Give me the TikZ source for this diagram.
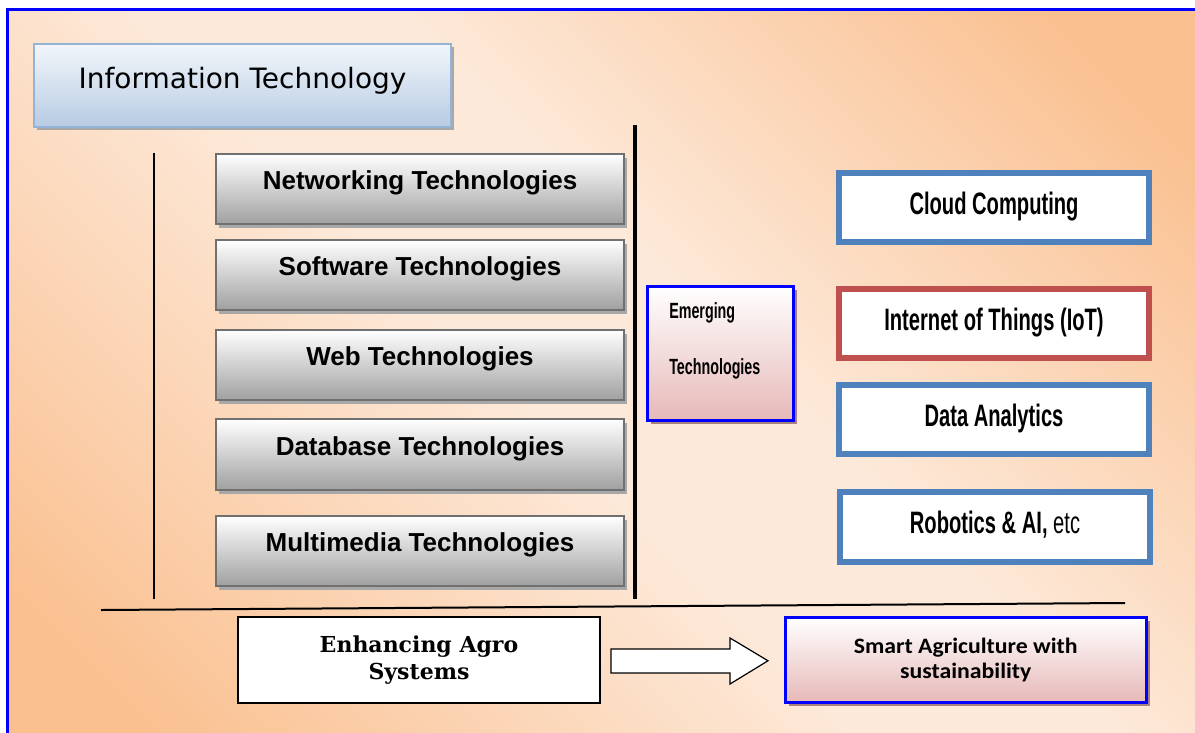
\documentclass[tikz,border=0pt]{standalone}
\usepackage{fontspec}
\usetikzlibrary{shadows,calc}
\newfontfamily\verd{DejaVu Sans}
\newfontfamily\arial{Liberation Sans}
\newfontfamily\agency[FakeStretch=0.65]{Liberation Sans}
\newfontfamily\serifb{DejaVu Serif}
\newfontfamily\calib[FakeStretch=1.08]{Carlito}
\definecolor{bgo}{HTML}{FAC090}
\definecolor{bgl}{HTML}{FDE9D9}
\definecolor{titletop}{HTML}{F2F6FB}
\definecolor{titlebot}{HTML}{B7CBE3}
\definecolor{titleborder}{HTML}{95B3D7}
\definecolor{graybot}{HTML}{A0A0A0}
\definecolor{grayborder}{HTML}{707070}
\definecolor{shadowgray}{HTML}{A8A8A8}
\definecolor{pinkbot}{HTML}{E6B9B8}
\definecolor{shadowbrown}{HTML}{A6817F}
\definecolor{accblue}{HTML}{4F81BD}
\definecolor{accred}{HTML}{C0504D}
\definecolor{pureblue}{HTML}{0000FF}
\pgfdeclareverticalshading{bgshade}{100bp}{color(0bp)=(bgo); color(20bp)=(bgo); color(46bp)=(bgl); color(56bp)=(bgl); color(80bp)=(bgo); color(100bp)=(bgo)}
\tikzset{
  graybox/.style={draw=grayborder, line width=2pt, top color=white, bottom color=graybot,
    minimum width=408pt, minimum height=70pt, anchor=north west, inner sep=0pt,
    font=\arial\bfseries\fontsize{26pt}{30pt}\selectfont, text height=20pt, text depth=19pt,
    drop shadow={shadow xshift=3pt, shadow yshift=-4pt, fill=shadowgray, opacity=1}},
  techbox/.style={draw=#1, line width=6pt, fill=white, minimum width=310pt, minimum height=69pt,
    anchor=north west, inner sep=0pt, text height=22pt, text depth=9pt,
    font=\agency\bfseries\fontsize{31pt}{36pt}\selectfont},
  pinkbox/.style={draw=pureblue, line width=2.5pt, top color=white, bottom color=pinkbot,
    anchor=north west, inner sep=0pt,
    drop shadow={shadow xshift=4pt, shadow yshift=-4pt, fill=shadowbrown, opacity=1}},
}
\begin{document}
\begin{tikzpicture}[x=1pt, y=-1pt]
\useasboundingbox (0,0) rectangle (1195,732);
\fill[white] (0,0) rectangle (1195,732);
\shade[shading=bgshade, shading angle=-45] (7.5,9.5) rectangle (1200,740);
\draw[pureblue, line width=3pt] (1200,9.5) -- (7.5,9.5) -- (7.5,740);

% title
\node[draw=titleborder, line width=2pt, top color=titletop, bottom color=titlebot,
  minimum width=417pt, minimum height=83pt, anchor=north west, inner sep=0pt,
  font=\verd\fontsize{28pt}{32pt}\selectfont, text height=20pt, text depth=15pt,
  drop shadow={shadow xshift=3pt, shadow yshift=-3pt, fill=shadowgray, opacity=1}]
  (title) at (33,43) {Information Technology};

% vertical lines
\coordinate (l1t) at (154,153);
\coordinate (l1b) at (154,599);
\draw[line width=1.5pt] (l1t) -- (l1b);
\coordinate (l2t) at (635,125);
\coordinate (l2b) at (635,599);
\draw[line width=4.5pt] (l2t) -- (l2b);

% gray boxes
\node[graybox] (net) at (215,153) {Networking Technologies};
\node[graybox] (soft) at (215,239) {Software Technologies};
\node[graybox] (web) at (215,329) {Web Technologies};
\node[graybox, minimum height=71pt] (db) at (215,418) {Database Technologies};
\node[graybox] (mm) at (215,515) {Multimedia Technologies};

% emerging
\node[pinkbox, minimum width=146pt, minimum height=134pt, text width=102pt, align=left,
  inner xsep=22pt, inner ysep=0pt, text height=15pt, text depth=85pt,
  font=\agency\bfseries\fontsize{22pt}{56pt}\selectfont]
  (emer) at (646,285) {Emerging\\Technologies};

% right boxes
\node[techbox=accblue] (cloud) at (836,170) {Cloud Computing};
\node[techbox=accred] (iot) at (836,286) {Internet of Things (IoT)};
\node[techbox=accblue] (data) at (836,382) {Data Analytics};
\node[techbox=accblue, minimum height=70pt] (robo) at (837,489) {Robotics \& AI, {\mdseries etc}};

% horizontal line
\coordinate (hl) at (101,610);
\coordinate (hr) at (1125,603);
\draw[line width=2pt] (hl) -- (hr);

% bottom boxes
\node[draw=black, line width=2pt, fill=white, minimum width=362pt, minimum height=86pt,
  anchor=north west, inner sep=0pt, align=center,
  font=\serifb\bfseries\fontsize{22pt}{27pt}\selectfont]
  (enh) at (237,616) {Enhancing Agro\\Systems};
\node[pinkbox, minimum width=361pt, minimum height=85pt, align=center,
  font=\calib\bfseries\fontsize{22pt}{25pt}\selectfont]
  (smart) at (784,616) {Smart Agriculture with\\sustainability};

% block arrow
\draw[line width=1.2pt, fill=white, line join=miter]
  ($(enh.east)+(10,-11)$) -- ++(119,0) -- ++(0,-11) -- ($(smart.west)+(-16,1)$)
  -- ($(enh.east)+(129,24)$) -- ++(0,-11) -- ++(-119,0) -- cycle;
\end{tikzpicture}
\end{document}
